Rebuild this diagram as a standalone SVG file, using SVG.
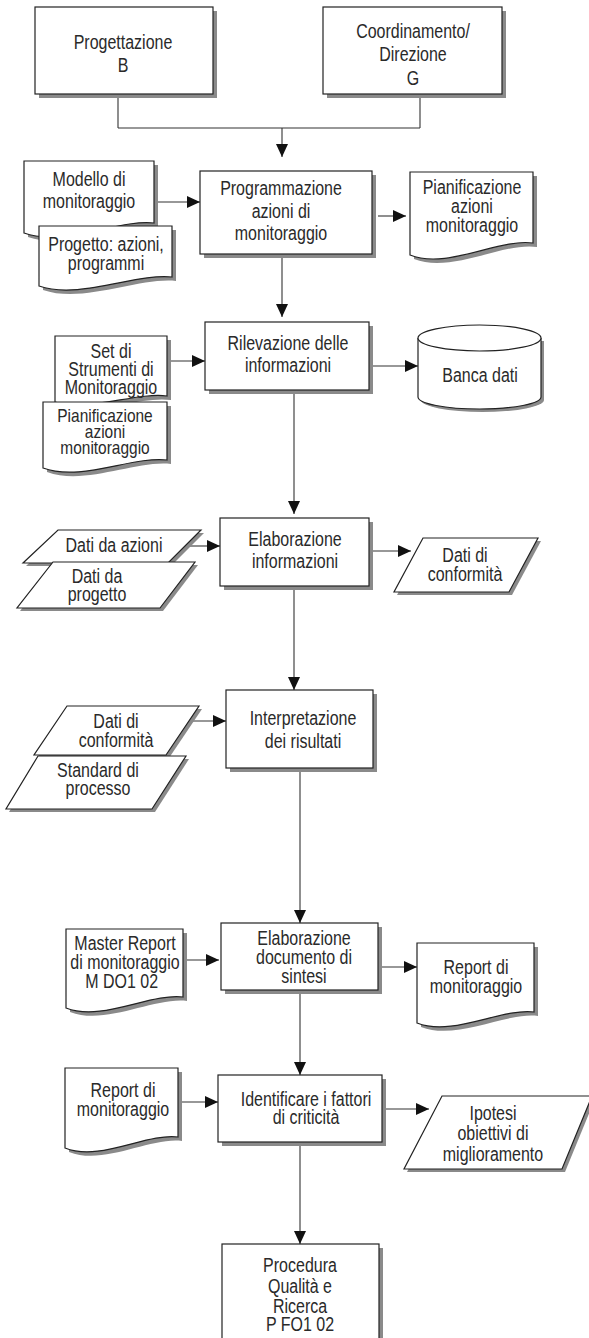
<svg xmlns="http://www.w3.org/2000/svg" width="589" height="1338" viewBox="0 0 589 1338">
<defs>
<style>
.s{fill:#8a8a8a;stroke:none}
.b{fill:#fff;stroke:#222;stroke-width:1.2}
.t{font-family:"Liberation Sans",Arial,sans-serif;font-size:19.5px;fill:#2a2a2a;text-anchor:middle}
.sm{font-size:18px}
.c{fill:none;stroke:#333;stroke-width:1.1}
</style>
<marker id="ar" markerUnits="userSpaceOnUse" markerWidth="14" markerHeight="12" refX="13" refY="6" orient="auto">
<path d="M0,0 L13,6 L0,12 Z" fill="#111"/>
</marker>
</defs>
<rect width="589" height="1338" fill="#fff"/>

<g id="connectors">
<path class="c" d="M118,94 V128 M420,94 V128 M118,128 H420"/>
<path class="c" d="M282,128 V157" marker-end="url(#ar)"/>
<path class="c" d="M154,202 H200" marker-end="url(#ar)"/>
<path class="c" d="M378,216 H406" marker-end="url(#ar)"/>
<path class="c" d="M282,254 V317" marker-end="url(#ar)"/>
<path class="c" d="M167,361 H205" marker-end="url(#ar)"/>
<path class="c" d="M369,366 H418" marker-end="url(#ar)"/>
<path class="c" d="M294,390 V514" marker-end="url(#ar)"/>
<path class="c" d="M189,546 H220" marker-end="url(#ar)"/>
<path class="c" d="M369,551 H411" marker-end="url(#ar)"/>
<path class="c" d="M294,586 V690" marker-end="url(#ar)"/>
<path class="c" d="M192,721 H226" marker-end="url(#ar)"/>
<path class="c" d="M300,768 V923" marker-end="url(#ar)"/>
<path class="c" d="M184,960 H219" marker-end="url(#ar)"/>
<path class="c" d="M378,967 H417" marker-end="url(#ar)"/>
<path class="c" d="M300,990 V1075" marker-end="url(#ar)"/>
<path class="c" d="M178,1102 H218" marker-end="url(#ar)"/>
<path class="c" d="M382,1109 H429" marker-end="url(#ar)"/>
<path class="c" d="M300,1142 V1244" marker-end="url(#ar)"/>
</g>

<g id="progettazione">
<rect class="s" x="39" y="11" width="178" height="87"/>
<rect class="b" x="35" y="7" width="178" height="87"/>
<g class="t" transform="translate(123 0) scale(0.82 1)">
<text x="0" y="49">Progettazione</text>
<text x="0" y="72">B</text>
</g>
</g>

<g id="coordinamento">
<rect class="s" x="327" y="11" width="179" height="87"/>
<rect class="b" x="323" y="7" width="179" height="87"/>
<g class="t" transform="translate(413 0) scale(0.82 1)">
<text x="0" y="38">Coordinamento/</text>
<text x="0" y="61">Direzione</text>
<text x="0" y="85">G</text>
</g>
</g>

<g id="modello">
<path class="s" transform="translate(4,4)" d="M24,161 H154 V223 C119,219 63,247 24,233 Z"/>
<path class="b" d="M24,161 H154 V223 C119,219 63,247 24,233 Z"/>
<g class="t" transform="translate(89 0) scale(0.82 1)">
<text x="0" y="186">Modello di</text>
<text x="0" y="208">monitoraggio</text>
</g>
</g>

<g id="progetto">
<path class="s" transform="translate(4,4)" d="M39,226 H172 V277 C136,273 79,300 39,286 Z"/>
<path class="b" d="M39,226 H172 V277 C136,273 79,300 39,286 Z"/>
<g class="t" transform="translate(106 0) scale(0.82 1)">
<text x="0" y="251">Progetto: azioni,</text>
<text x="0" y="270">programmi</text>
</g>
</g>

<g id="programmazione">
<rect class="s" x="204" y="175" width="172" height="83"/>
<rect class="b" x="200" y="171" width="172" height="83"/>
<g class="t" transform="translate(281 0) scale(0.82 1)">
<text x="0" y="195">Programmazione</text>
<text x="0" y="218">azioni di</text>
<text x="0" y="240">monitoraggio</text>
</g>
</g>

<g id="pianificazione1">
<path class="s" transform="translate(4,4)" d="M410,172 H533 V243 C499,238 447,270 410,255 Z"/>
<path class="b" d="M410,172 H533 V243 C499,238 447,270 410,255 Z"/>
<g class="t" transform="translate(472 0) scale(0.82 1)">
<text x="0" y="194">Pianificazione</text>
<text x="0" y="213">azioni</text>
<text x="0" y="232">monitoraggio</text>
</g>
</g>

<g id="rilevazione">
<rect class="s" x="209" y="326" width="164" height="68"/>
<rect class="b" x="205" y="322" width="164" height="68"/>
<g class="t" transform="translate(288 0) scale(0.82 1)">
<text x="0" y="350">Rilevazione delle</text>
<text x="0" y="372">informazioni</text>
</g>
</g>

<g id="setdi">
<path class="s" transform="translate(4,4)" d="M55,336 H167 V396 C136,392 89,412 55,402 Z"/>
<path class="b" d="M55,336 H167 V396 C136,392 89,412 55,402 Z"/>
<g class="t" transform="translate(111 0) scale(0.82 1)">
<text x="0" y="358">Set di</text>
<text x="0" y="376">Strumenti di</text>
<text x="0" y="394">Monitoraggio</text>
</g>
</g>

<g id="pianificazione2">
<path class="s" transform="translate(4,4)" d="M43,402 H167 V460 C132,456 81,482 43,468 Z"/>
<path class="b" d="M43,402 H167 V460 C132,456 81,482 43,468 Z"/>
<g class="t sm" transform="translate(105 0) scale(0.86 1)">
<text x="0" y="422">Pianificazione</text>
<text x="0" y="438">azioni</text>
<text x="0" y="454">monitoraggio</text>
</g>
</g>

<g id="bancadati">
<path class="s" transform="translate(3,3)" d="M418,338 V397 A61.5,12 0 0 0 541,397 V338 Z"/>
<path class="b" d="M418,338 V397 A61.5,12 0 0 0 541,397 V338"/>
<ellipse class="b" cx="479.5" cy="338" rx="61.5" ry="13"/>
<g class="t" transform="translate(480 0) scale(0.82 1)">
<text x="0" y="382">Banca dati</text>
</g>
</g>

<g id="datiazioni">
<path class="s" transform="translate(3,3)" d="M58,530 H201 L168,563 H23 Z"/>
<path class="b" d="M58,530 H201 L168,563 H23 Z"/>
<g class="t" transform="translate(114 0) scale(0.82 1)">
<text x="0" y="552">Dati da azioni</text>
</g>
</g>

<g id="datiprogetto">
<path class="s" transform="translate(3,3)" d="M53,562 H195 L160,608 H17 Z"/>
<path class="b" d="M53,562 H195 L160,608 H17 Z"/>
<g class="t" transform="translate(97 0) scale(0.82 1)">
<text x="0" y="583">Dati da</text>
<text x="0" y="601">progetto</text>
</g>
</g>

<g id="elaborazione">
<rect class="s" x="224" y="522" width="149" height="68"/>
<rect class="b" x="220" y="518" width="149" height="68"/>
<g class="t" transform="translate(295 0) scale(0.82 1)">
<text x="0" y="546">Elaborazione</text>
<text x="0" y="568">informazioni</text>
</g>
</g>

<g id="conformita1">
<path class="s" transform="translate(3,3)" d="M423,538 H538 L509,592 H394 Z"/>
<path class="b" d="M423,538 H538 L509,592 H394 Z"/>
<g class="t" transform="translate(465 0) scale(0.82 1)">
<text x="0" y="562">Dati di</text>
<text x="0" y="581">conformità</text>
</g>
</g>

<g id="conformita2">
<path class="s" transform="translate(3,3)" d="M67,706 H199 L166,755 H34 Z"/>
<path class="b" d="M67,706 H199 L166,755 H34 Z"/>
<g class="t" transform="translate(116 0) scale(0.82 1)">
<text x="0" y="728">Dati di</text>
<text x="0" y="747">conformità</text>
</g>
</g>

<g id="standard">
<path class="s" transform="translate(3,3)" d="M38,756 H186 L152,809 H6 Z"/>
<path class="b" d="M38,756 H186 L152,809 H6 Z"/>
<g class="t" transform="translate(98 0) scale(0.82 1)">
<text x="0" y="777">Standard di</text>
<text x="0" y="795">processo</text>
</g>
</g>

<g id="interpretazione">
<rect class="s" x="230" y="694" width="147" height="78"/>
<rect class="b" x="226" y="690" width="147" height="78"/>
<g class="t" transform="translate(303 0) scale(0.82 1)">
<text x="0" y="725">Interpretazione</text>
<text x="0" y="748">dei risultati</text>
</g>
</g>

<g id="masterreport">
<path class="s" transform="translate(4,4)" d="M66,929 H183 V997 C150,993 102,1022 66,1008 Z"/>
<path class="b" d="M66,929 H183 V997 C150,993 102,1022 66,1008 Z"/>
<g class="t" transform="translate(125 0) scale(0.82 1)">
<text x="0" y="950">Master Report</text>
<text x="0" y="969">di monitoraggio</text>
<text x="-4" y="988">M DO1 02</text>
</g>
</g>

<g id="sintesi">
<rect class="s" x="225" y="927" width="157" height="67"/>
<rect class="b" x="221" y="923" width="157" height="67"/>
<g class="t" transform="translate(304 0) scale(0.82 1)">
<text x="0" y="945">Elaborazione</text>
<text x="0" y="964">documento di</text>
<text x="0" y="983">sintesi</text>
</g>
</g>

<g id="report1">
<path class="s" transform="translate(4,4)" d="M417,943 H534 V1012 C501,1008 453,1037 417,1023 Z"/>
<path class="b" d="M417,943 H534 V1012 C501,1008 453,1037 417,1023 Z"/>
<g class="t" transform="translate(476 0) scale(0.82 1)">
<text x="0" y="974">Report di</text>
<text x="0" y="993">monitoraggio</text>
</g>
</g>

<g id="report2">
<path class="s" transform="translate(4,4)" d="M65,1068 H178 V1137 C146,1133 100,1162 65,1148 Z"/>
<path class="b" d="M65,1068 H178 V1137 C146,1133 100,1162 65,1148 Z"/>
<g class="t" transform="translate(123 0) scale(0.82 1)">
<text x="0" y="1097">Report di</text>
<text x="0" y="1116">monitoraggio</text>
</g>
</g>

<g id="identificare">
<rect class="s" x="222" y="1079" width="164" height="67"/>
<rect class="b" x="218" y="1075" width="164" height="67"/>
<g class="t" transform="translate(306 0) scale(0.82 1)">
<text x="0" y="1106">Identificare i fattori</text>
<text x="0" y="1124">di criticità</text>
</g>
</g>

<g id="ipotesi">
<path class="s" transform="translate(3,3)" d="M442,1096 H592 L562,1169 H404 Z"/>
<path class="b" d="M442,1096 H592 L562,1169 H404 Z"/>
<g class="t" transform="translate(493 0) scale(0.82 1)">
<text x="0" y="1120">Ipotesi</text>
<text x="0" y="1140">obiettivi di</text>
<text x="0" y="1161">miglioramento</text>
</g>
</g>

<g id="procedura">
<rect class="s" x="226" y="1248" width="157" height="100"/>
<rect class="b" x="222" y="1244" width="157" height="100"/>
<g class="t" transform="translate(300 0) scale(0.82 1)">
<text x="0" y="1272">Procedura</text>
<text x="0" y="1293">Qualità e</text>
<text x="0" y="1313">Ricerca</text>
<text x="0" y="1331">P FO1 02</text>
</g>
</g>
</svg>
